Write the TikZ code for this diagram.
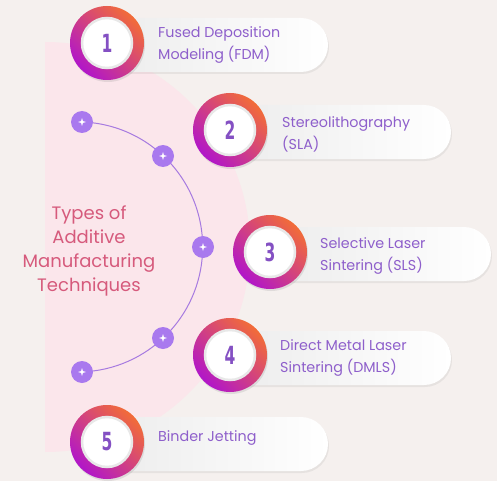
\documentclass[tikz,border=0pt]{standalone}
\usepackage{fontspec}
\setmainfont{Poppins}
\newfontfamily\numfont{DejaVu Sans}
\usetikzlibrary{shadows}
\pgfdeclarelayer{bg}
\pgfdeclarelayer{mid}
\pgfsetlayers{bg,mid,main}
\definecolor{bgcol}{HTML}{F5F0EE}
\definecolor{pinkbg}{HTML}{FBE6EB}
\definecolor{arccol}{HTML}{A67AE0}
\definecolor{dotcol}{HTML}{A979EE}
\definecolor{titlecol}{HTML}{D65A7C}
\definecolor{itemcol}{HTML}{8E5FCB}
\definecolor{numcol}{HTML}{8450C3}
\definecolor{ringtop}{HTML}{F26C38}
\definecolor{ringbot}{HTML}{B116C9}
\begin{document}
\begin{tikzpicture}[x=1pt,y=-1pt,
  pill/.style={rectangle, rounded corners=27pt, minimum width=241pt, minimum height=54pt,
    inner sep=0pt, left color=black!8, right color=white,
    drop shadow={shadow xshift=1pt, shadow yshift=-2pt, opacity=0.12}},
  ring/.style={circle, minimum size=74pt, inner sep=0pt, top color=ringtop,
    bottom color=ringbot, shading angle=-45,
    drop shadow={shadow xshift=1pt, shadow yshift=-2pt, opacity=0.18}},
  disc/.style={circle, minimum size=50pt, inner sep=0pt, fill=white, draw=black!9, line width=2.5pt},
  num/.style={text=numcol, font=\numfont\bfseries\fontsize{25}{25}\selectfont},
  item/.style={anchor=west, align=left, inner sep=0pt, text=itemcol, font=\fontsize{14.3}{22}\selectfont},
  title/.style={align=center, text=titlecol, font=\fontsize{18}{24}\selectfont},
  dot/.style={circle, fill=dotcol, minimum size=22pt, inner sep=0pt,
    path picture={\fill[white] (path picture bounding box.center) +(0,4) -- +(0.9,0.9) -- +(4,0)
      -- +(0.9,-0.9) -- +(0,-4) -- +(-0.9,-0.9) -- +(-4,0) -- +(-0.9,0.9) -- cycle;}},
  arcline/.style={arccol, line width=1pt}]
\begin{pgfonlayer}{bg}
\fill[bgcol] (0,0) rectangle (497,481);
% pink half disc
\fill[pinkbg] (45,42) arc[start angle=-90, end angle=90, radius=205] -- cycle;
\end{pgfonlayer}
\useasboundingbox (0,0) rectangle (497,481);

% arc with dots
\node[dot] (d1) at (82,122) {};
\node[dot] (d2) at (163,156) {};
\node[dot] (d3) at (203,247) {};
\node[dot] (d4) at (163,338) {};
\node[dot] (d5) at (82,372) {};
\begin{pgfonlayer}{mid}
\draw[arcline] (d1.center) arc[start angle=-88, end angle=88, radius=125];
\end{pgfonlayer}

\node[title] (ttl) at (89,251) {Types of\\Additive\\Manufacturing\\Techniques};

% item 1
\node[pill] (p1) at (207.5,45) {};
\node[ring] (r1) at (107,43) {};
\node[disc] at (r1) {};
\node[num] at (r1) {\scalebox{0.62}[1]{1}};
\node[item] (t1) at (158,45) {Fused Deposition\\Modeling (FDM)};

% item 2
\node[pill] (p2) at (330.5,132) {};
\node[ring] (r2) at (230,130) {};
\node[disc] at (r2) {};
\node[num] at (r2) {\scalebox{0.62}[1]{2}};
\node[item] (t2) at (282,134) {Stereolithography\\(SLA)};

% item 3
\node[pill] (p3) at (370.5,254) {};
\node[ring] (r3) at (270,252) {};
\node[disc] at (r3) {};
\node[num] at (r3) {\scalebox{0.62}[1]{3}};
\node[item] (t3) at (320,256) {Selective Laser\\Sintering (SLS)};

% item 4
\node[pill] (p4) at (330.5,358) {};
\node[ring] (r4) at (230,355) {};
\node[disc] at (r4) {};
\node[num] at (r4) {\scalebox{0.62}[1]{4}};
\node[item] (t4) at (280,358) {Direct Metal Laser\\Sintering (DMLS)};

% item 5
\node[pill] (p5) at (207.5,444) {};
\node[ring] (r5) at (107,442) {};
\node[disc] at (r5) {};
\node[num] at (r5) {\scalebox{0.62}[1]{5}};
\node[item] (t5) at (158,438) {Binder Jetting};
\end{tikzpicture}
\end{document}
